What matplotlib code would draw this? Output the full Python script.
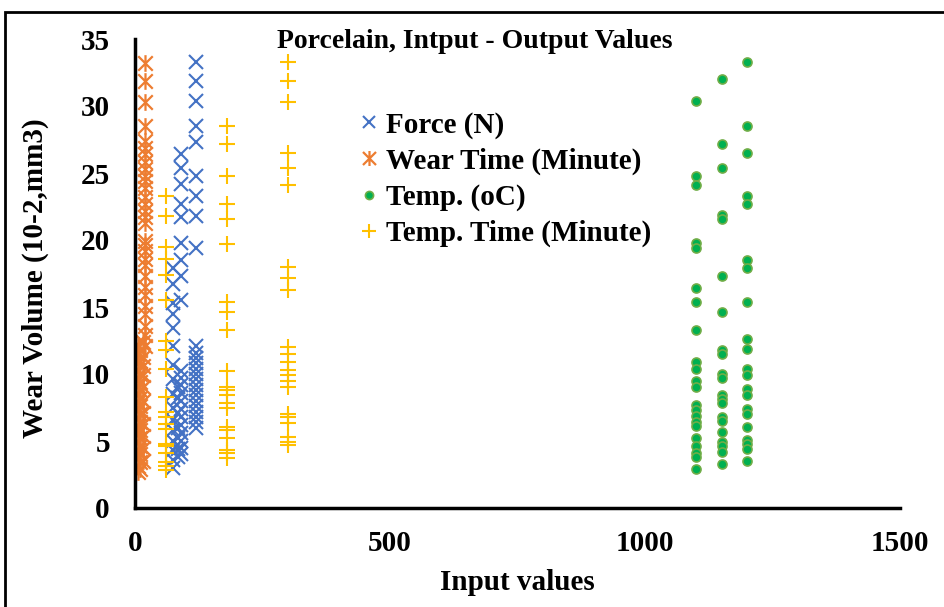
import numpy as np
import matplotlib as mpl
mpl.use('Agg')
import matplotlib.pyplot as plt
from matplotlib.patches import Rectangle
from matplotlib.path import Path

mpl.rcParams['font.family'] = ['Liberation Serif', 'DejaVu Serif']
mpl.rcParams['font.weight'] = 'bold'

# Force (N) -> wear volume
force_75 = [17.9, 16.7, 15.3, 14.5, 13.4, 12.1, 10.7, 9.6, 8.5, 7.5, 6.6, 5.8, 5.0, 4.3, 3.6, 3.0]
force_85 = [9.0, 8.2, 7.1, 6.0, 5.2, 4.4, 3.8]
force_90 = [26.4, 25.4, 24.2, 22.7, 21.7, 19.8, 18.5, 17.3, 15.5, 10.2, 9.7, 9.2, 8.6,
            8.0, 7.4, 6.8, 6.2, 5.6, 5.0, 4.5, 4.0]
force_120 = [33.3, 31.9, 30.4, 28.5, 27.3, 24.8, 23.3, 21.8, 19.4, 12.1, 11.6, 11.2, 10.8,
             10.4, 10.0, 9.6, 9.2, 8.8, 8.4, 8.0, 7.6, 7.2, 6.8, 6.4, 6.0]

# Wear time (minute) -> wear volume
wear_5 = [12.2, 11.5, 10.9, 10.3, 9.7, 9.1, 8.5, 7.9, 7.3, 6.7, 6.1, 5.5, 4.9, 4.3, 3.7, 3.1, 2.7]
wear_10 = [11.8, 11.0, 10.0, 9.4, 8.8, 8.2, 7.6, 7.0, 6.4, 5.8, 5.2, 4.6, 4.0, 3.4, 2.9]
wear_15 = [12.4, 11.3, 10.6, 9.9, 9.0, 8.0, 7.1, 6.3, 5.4, 4.5, 3.5]
wear_20 = [33.2, 31.9, 30.3, 28.5, 27.4, 26.9, 26.4, 25.8, 25.3, 24.8, 24.4, 23.9, 23.2,
           22.7, 22.2, 21.7, 21.3, 19.9, 19.6, 19.2, 18.6, 18.1, 17.3, 16.5, 15.9, 15.1,
           14.5, 13.6, 12.9, 12.1]

# Temp. (oC) -> wear volume
temp_1100 = [30.4, 24.8, 24.1, 19.8, 19.4, 16.4, 15.4, 13.3, 10.9, 10.4, 9.5, 9.0, 7.7,
             7.3, 6.9, 6.4, 6.1, 5.2, 4.6, 4.1, 3.8, 2.9]
temp_1150 = [32.0, 27.2, 25.4, 21.9, 21.6, 17.3, 14.6, 11.8, 11.5, 10.0, 9.7, 8.4, 8.1,
             7.8, 6.8, 6.5, 5.7, 4.9, 4.6, 4.2, 3.3]
temp_1200 = [33.3, 28.5, 26.5, 23.3, 22.7, 18.5, 17.9, 15.4, 12.6, 11.9, 10.4, 9.95, 8.9,
             8.4, 7.4, 7.05, 6.05, 5.1, 4.8, 4.4, 3.5]

# Temp. time (minute) -> wear volume
ttime_60 = [23.3, 21.8, 19.5, 18.6, 17.4, 15.5, 12.5, 11.8, 10.4, 8.3, 7.2, 6.8, 6.3,
            5.9, 4.8, 4.6, 4.1, 3.4, 3.1, 2.8]
ttime_180 = [28.5, 27.2, 24.8, 22.7, 21.6, 19.7, 15.4, 14.6, 13.3, 10.2, 9.0, 8.8, 8.4,
             7.8, 7.5, 6.05, 5.8, 5.2, 4.3, 4.1, 3.7]
ttime_300 = [33.3, 31.9, 30.3, 26.5, 25.4, 24.1, 18.0, 17.2, 16.3, 12.0, 11.5, 10.9, 10.3,
             9.96, 9.5, 9.0, 7.0, 6.8, 6.35, 5.3, 4.9, 4.7]


def stack(groups):
    xs, ys = [], []
    for level, vals in groups:
        xs += [level] * len(vals)
        ys += vals
    return np.array(xs), np.array(ys)


force_x, force_y = stack([(75, force_75), (85, force_85), (90, force_90), (120, force_120)])
wear_x, wear_y = stack([(5, wear_5), (10, wear_10), (15, wear_15), (20, wear_20)])
temp_x, temp_y = stack([(1100, temp_1100), (1150, temp_1150), (1200, temp_1200)])
ttime_x, ttime_y = stack([(60, ttime_60), (180, ttime_180), (300, ttime_300)])

# excel style star: x with a vertical bar
star = Path([(-1, -1), (1, 1), (-1, 1), (1, -1), (0, -1.15), (0, 1.15)],
            [Path.MOVETO, Path.LINETO, Path.MOVETO, Path.LINETO, Path.MOVETO, Path.LINETO])

fig = plt.figure(figsize=(9.44, 6.07), dpi=100)
ax = fig.add_axes([135 / 944, 1 - 508 / 607, 765 / 944, 469 / 607])

ax.plot(force_x, force_y, ls='none', marker='x', ms=10, mew=1.5, color='#4472C4',
        label='Force (N)')
ax.plot(wear_x, wear_y, ls='none', marker=star, ms=12, mew=1.6, color='#ED7D31',
        label='Wear Time (Minute)')
ax.plot(temp_x, temp_y, ls='none', marker='o', ms=6.5, mew=1.2, mfc='#00B050',
        mec='#70AD47', label='Temp. (oC)')
ax.plot(ttime_x, ttime_y, ls='none', marker='+', ms=11, mew=1.5, color='#FFC000',
        label='Temp. Time (Minute)')

ax.set_xlim(0, 1500)
ax.set_ylim(0, 35)
ax.set_xticks([0, 500, 1000, 1500])
ax.set_yticks(range(0, 36, 5))
for s in ['top', 'right']:
    ax.spines[s].set_visible(False)
for s in ['left', 'bottom']:
    ax.spines[s].set_linewidth(2.5)
ax.tick_params(length=0, labelsize=21)
ax.tick_params(axis='x', pad=16)
ax.tick_params(axis='y', pad=18)
ax.set_xlabel('Input values', fontsize=21, fontweight='bold')
ax.set_ylabel('Wear Volume (10-2,mm3)', fontsize=21, fontweight='bold')
ax.xaxis.set_label_coords(0.5, -0.13)
ax.yaxis.set_label_coords(-0.112, 0.49)

fig.text(475 / 944, 1 - 42 / 607, 'Porcelain, Intput - Output Values', fontsize=20,
         fontweight='bold', ha='center', va='center')

ax.legend(loc='upper left', bbox_to_anchor=(344 / 944, 1 - 97 / 607),
          bbox_transform=fig.transFigure, frameon=False, fontsize=21, markerscale=0.9,
          handlelength=0.7, handletextpad=0.25, labelspacing=0.3, borderpad=0)

fig.patches.append(Rectangle((5 / 944, -0.1), 1.2, 1 - 12 / 607 + 0.1, fill=False,
                             lw=2, ec='black', transform=fig.transFigure, figure=fig))

plt.savefig('out.png', dpi=100)
